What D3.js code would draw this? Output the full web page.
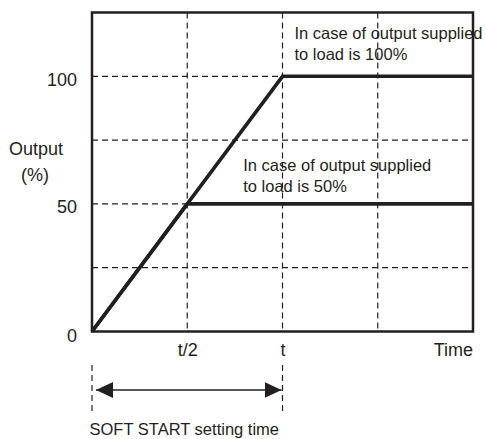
<!DOCTYPE html>
<html>
<head>
<meta charset="utf-8">
<script src="https://cdn.jsdelivr.net/npm/d3@7"></script>
<style>
  html, body { margin: 0; padding: 0; background: #ffffff; }
  svg { display: block; }
  text { font-family: "Liberation Sans", Arial, Helvetica, sans-serif; fill: #231f20; }
</style>
</head>
<body>
<svg id="chart" width="486" height="439"></svg>
<script>
// ---- data ----
const timeDomain = [0, 2];            // in units of t
const outputDomain = [0, 125];        // percent
const timeTicks = [0.5, 1];
const timeTickLabels = ["t/2", "t"];
const outputTicks = [0, 50, 100];
const gridTimes = [0.5, 1, 1.5];
const gridOutputs = [25, 50, 75, 100];
const load100Time = [0, 1, 2];
const load100Output = [0, 100, 100];
const load50Time = [0, 0.5, 2];
const load50Output = [0, 50, 50];
const load100Label = ["In case of output supplied", "to load is 100%"];
const load50Label = ["In case of output supplied", "to load is 50%"];
const softStartRange = [0, 1];
const softStartLabel = "SOFT START setting time";

// ---- layout ----
const svg = d3.select("#chart");
const ink = "#231f20";
const x = d3.scaleLinear().domain(timeDomain).range([92, 473]);
const y = d3.scaleLinear().domain(outputDomain).range([331.5, 12.5]);

// grid
const grid = svg.append("g").attr("stroke", ink).attr("stroke-width", 1.2)
  .attr("stroke-dasharray", "6,4").attr("fill", "none");
grid.selectAll("line.v").data(gridTimes).join("line").attr("class", "v")
  .attr("x1", d => x(d)).attr("x2", d => x(d))
  .attr("y1", y(outputDomain[1])).attr("y2", y(0));
grid.selectAll("line.h").data(gridOutputs).join("line").attr("class", "h")
  .attr("x1", x(0)).attr("x2", x(timeDomain[1]))
  .attr("y1", d => y(d)).attr("y2", d => y(d));

// frame
svg.append("rect")
  .attr("x", x(0)).attr("y", y(outputDomain[1]))
  .attr("width", x(timeDomain[1]) - x(0)).attr("height", y(0) - y(outputDomain[1]))
  .attr("fill", "none").attr("stroke", ink).attr("stroke-width", 2.5);

// series lines
const line = d3.line().x(d => x(d[0])).y(d => y(d[1]));
const s100 = load100Time.map((t, i) => [t, load100Output[i]]);
const s50 = load50Time.map((t, i) => [t, load50Output[i]]);
[s50, s100].forEach(s => {
  svg.append("path").datum(s).attr("d", line)
    .attr("fill", "none").attr("stroke", ink).attr("stroke-width", 3.6)
    .attr("stroke-linejoin", "miter").attr("stroke-linecap", "butt");
});

// y axis labels
const yAxis = d3.axisLeft(y).tickValues(outputTicks).tickSize(0).tickPadding(15);
const gy = svg.append("g").attr("transform", `translate(${x(0)},0)`).call(yAxis);
gy.select(".domain").remove();
gy.selectAll("text").attr("font-size", 18).attr("y", 3)
  .style("font-family", "'Liberation Sans', Arial, sans-serif").attr("fill", ink);
gy.selectAll("text").filter(d => d === 0).attr("y", 4);

// x axis labels
const xAxis = d3.axisBottom(x).tickValues(timeTicks).tickSize(0).tickPadding(11.5)
  .tickFormat((d, i) => timeTickLabels[i]);
const gx = svg.append("g").attr("transform", `translate(0,${y(0)})`).call(xAxis);
gx.select(".domain").remove();
gx.selectAll("text").attr("font-size", 18)
  .style("font-family", "'Liberation Sans', Arial, sans-serif").attr("fill", ink);

// axis titles
svg.append("text").attr("x", x(timeDomain[1])).attr("y", 356)
  .attr("text-anchor", "end").attr("font-size", 18).text("Time");
svg.append("text").attr("x", 36).attr("y", 155)
  .attr("text-anchor", "middle").attr("font-size", 18).text("Output");
svg.append("text").attr("x", 35).attr("y", 181)
  .attr("text-anchor", "middle").attr("font-size", 18).text("(%)");

// annotations
function annot(lines, tx, by) {
  const t = svg.append("text").attr("font-size", 16.5);
  lines.forEach((s, i) => t.append("tspan").attr("x", tx).attr("y", by + i * 21).text(s));
}
annot(load100Label, x(1) + 12, 39);
annot(load50Label, x(0.5) + 56, 171);

// soft start arrow
const arrowY = 390;
svg.append("defs").append("marker").attr("id", "ah")
  .attr("viewBox", "0 0 17 16").attr("refX", 17).attr("refY", 8)
  .attr("markerWidth", 17).attr("markerHeight", 16)
  .attr("markerUnits", "userSpaceOnUse").attr("orient", "auto-start-reverse")
  .append("path").attr("d", "M0,0 L17,8 L0,16 Z").attr("fill", ink);
svg.selectAll("line.ss").data(softStartRange).join("line").attr("class", "ss")
  .attr("x1", d => x(d)).attr("x2", d => x(d))
  .attr("y1", 365).attr("y2", 411)
  .attr("stroke", ink).attr("stroke-width", 1.2).attr("stroke-dasharray", "6,4");
svg.append("line")
  .attr("x1", x(softStartRange[0]) + 4).attr("x2", x(softStartRange[1]) - 1)
  .attr("y1", arrowY).attr("y2", arrowY)
  .attr("stroke", ink).attr("stroke-width", 1.6)
  .attr("marker-start", "url(#ah)").attr("marker-end", "url(#ah)");
svg.append("text").attr("x", (x(softStartRange[0]) + x(softStartRange[1])) / 2 - 3)
  .attr("y", 434.5).attr("text-anchor", "middle").attr("font-size", 16.5).text(softStartLabel);
</script>
</body>
</html>
